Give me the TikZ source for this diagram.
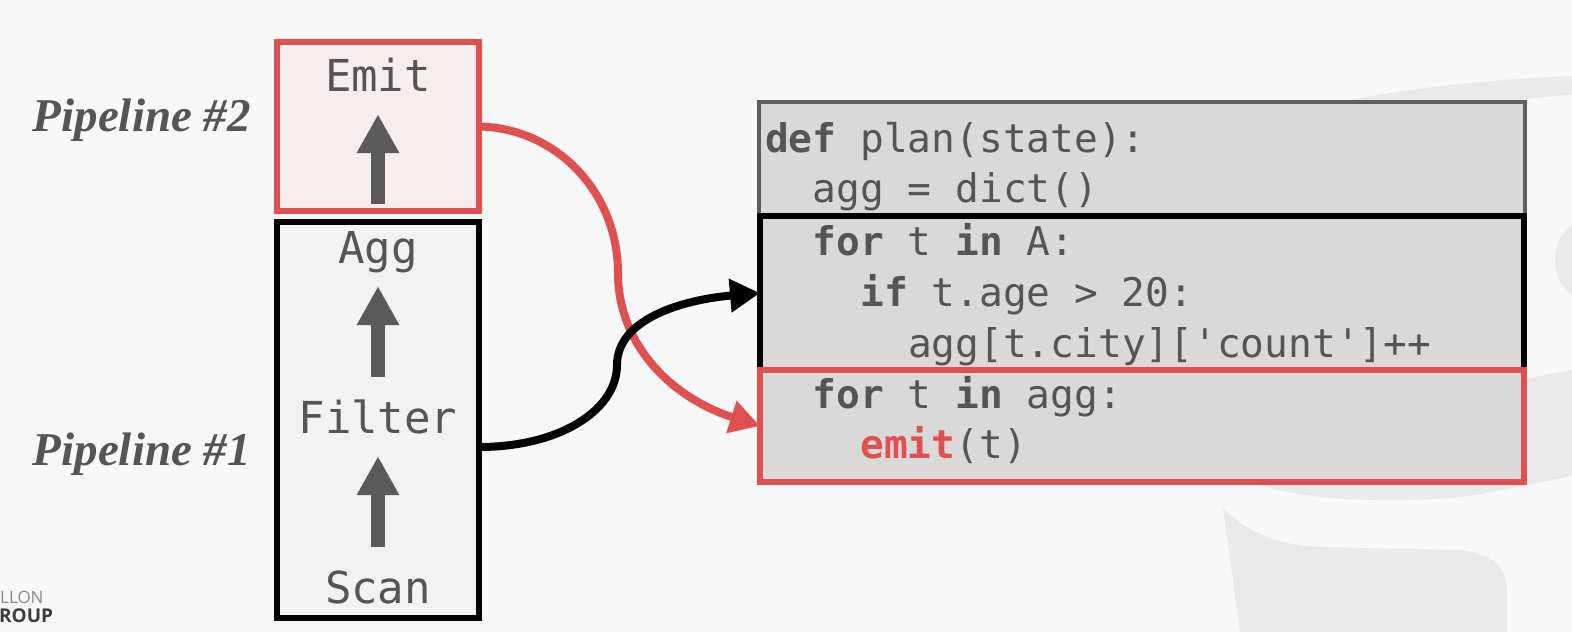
\documentclass[tikz,border=0pt]{standalone}
\usepackage{fontspec}
\setmainfont{Liberation Serif}
\setmonofont{DejaVu Sans Mono}
\setsansfont{Open Sans}
\usetikzlibrary{arrows.meta}
\definecolor{bg}{HTML}{F8F8F8}
\definecolor{wm}{HTML}{EAEAEA}
\definecolor{cred}{HTML}{E05050}
\definecolor{txt}{HTML}{555555}
\definecolor{agray}{HTML}{5A5A5A}
\definecolor{codefill}{HTML}{D9D9D9}
\definecolor{opfill}{HTML}{F2F2F2}
\definecolor{emfill}{HTML}{F5EEEE}
\definecolor{gborder}{HTML}{606060}
\definecolor{logolight}{HTML}{8A8A8A}
\definecolor{logodark}{HTML}{3C3C3C}
\begin{document}
\begin{tikzpicture}[x=1pt,y=-1pt,
  box/.style={draw,rectangle,inner sep=0pt,outer sep=0pt},
  oplabel/.style={inner sep=0pt,anchor=base,text=txt,font=\ttfamily\fontsize{44}{44}\selectfont,text height=32pt,text depth=10pt},
  upflow/.style={draw=agray,line width=14pt,-{Triangle[length=39pt,width=40pt]},shorten <=24pt,shorten >=13pt},
  codeline/.style={inner sep=0pt,anchor=base west,text=txt,font=\ttfamily\fontsize{39.5}{51}\selectfont},
  pipe/.style={inner sep=0pt,anchor=base east,text=txt,font=\bfseries\itshape\fontsize{47}{47}\selectfont},
  link/.style={line width=8pt,-{Triangle[length=30pt,width=32pt]}},
]
% background
\useasboundingbox (0,0) rectangle (1572,632);
\fill[bg] (0,0) rectangle (1572,632);
% watermark
\fill[wm] (1340,102) .. controls (1420,86) and (1500,79) .. (1572,76) -- (1572,95) .. controls (1550,96) .. (1520,100) -- cycle;
\fill[wm] (1600,260) circle[radius=45];
\fill[wm] (1255,440) -- (1522,440) -- (1522,380) .. controls (1540,376) .. (1572,370) -- (1572,476)
   .. controls (1530,484) and (1490,494) .. (1450,498) .. controls (1380,503) and (1300,500) .. (1255,483) -- cycle;
\fill[wm] (1223,508) .. controls (1250,535) and (1280,545) .. (1320,547) -- (1455,550)
   .. controls (1490,552) and (1507,565) .. (1507,592) -- (1507,632) -- (1240,632) -- cycle;

% logo remnants
\node[anchor=base west,inner sep=0pt,font=\sffamily\fontsize{17}{17}\selectfont,text=logolight] (lg1) at (0,603) {LLON};
\node[anchor=base west,inner sep=0pt,font=\sffamily\bfseries\fontsize{19}{19}\selectfont,text=logodark] (lg2) at (-1,622) {ROUP};

% operator boxes
\node[box,draw=cred,fill=emfill,line width=6pt,minimum width=202pt,minimum height=169pt] (emitbox) at (378,126.5) {};
\node[box,draw=black,fill=opfill,line width=6pt,minimum width=202pt,minimum height=396pt] (opbox) at (378,420) {};

\node[oplabel] (emit) at (378,91) {Emit};
\node[oplabel] (agg) at (378,263) {Agg};
\node[oplabel] (filter) at (378,433) {Filter};
\node[oplabel] (scan) at (378,603) {Scan};

\draw[upflow,shorten <=7pt] (emitbox.south) -- (emit.south);
\draw[upflow] (filter.north) -- (agg.south);
\draw[upflow] (scan.north) -- (filter.south);

% pipeline labels
\node[pipe] (p2) at (251,131) {Pipeline \#2};
\node[pipe] (p1) at (251,465) {Pipeline \#1};

% code boxes
\node[box,draw=gborder,fill=codefill,line width=4pt,minimum width=766pt,minimum height=114pt] (topbox) at (1142,159) {};
\node[box,draw=black,fill=codefill,line width=6pt,minimum width=764pt,minimum height=154pt] (blackbox) at (1142,293) {};
\node[box,draw=cred,fill=codefill,line width=6pt,minimum width=764pt,minimum height=112pt] (redbox) at (1142,426) {};

\node[codeline] (l1) at (765,152) {\textbf{def} plan(state):};
\node[codeline] (l2) at (812.6,202) {agg = dict()};
\node[codeline] (l3) at (812.6,255) {\textbf{for} t \textbf{in} A:};
\node[codeline] (l4) at (860.2,306) {\textbf{if} t.age > 20:};
\node[codeline] (l5) at (907.8,357) {agg[t.city][\char39 count\char39]++};
\node[codeline] (l6) at (812.6,408) {\textbf{for} t \textbf{in} agg:};
\node[codeline] (l7) at (860.2,458) {\textcolor{cred}{\textbf{emit}}(t)};

% connectors
\draw[link,draw=cred] (emitbox.east) .. controls (557,128) and (618,193) .. (618,273)
   .. controls (618,345) and (672,398) .. (redbox.west);
\draw[link,draw=black] ([yshift=-27pt]opbox.east) .. controls (560,447) and (617,410) .. (617,365)
   .. controls (617,320) and (680,300) .. (blackbox.west);
\end{tikzpicture}
\end{document}
